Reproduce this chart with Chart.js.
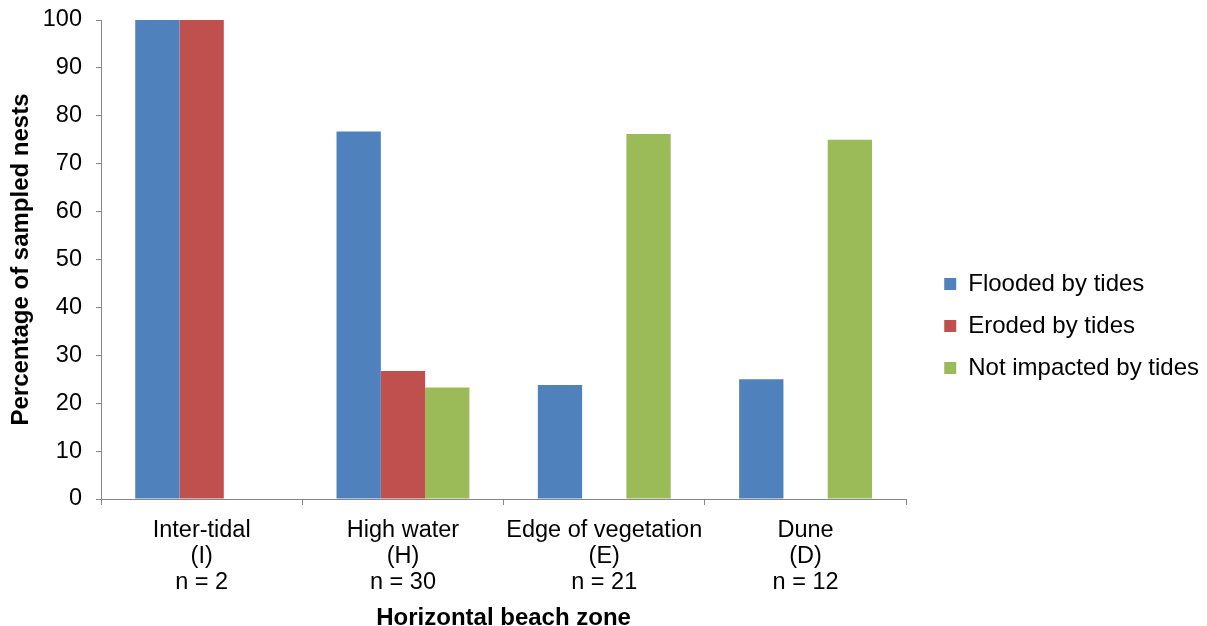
<!DOCTYPE html>
<html>
<head>
<meta charset="utf-8">
<script src="https://cdn.jsdelivr.net/npm/chart.js@4.4.1/dist/chart.umd.min.js"></script>
<style>
html,body{margin:0;padding:0;background:#fff;}
#wrap{width:1207px;height:626px;position:relative;}
</style>
</head>
<body>
<div id="wrap"><canvas id="c" width="1207" height="626"></canvas></div>
<script>
const categories = [
  ["Inter-tidal", "(I)", "n = 2"],
  ["High water", "(H)", "n = 30"],
  ["Edge of vegetation", "(E)", "n = 21"],
  ["Dune", "(D)", "n = 12"]
];
const seriesNames = ["Flooded by tides", "Eroded by tides", "Not impacted by tides"];
const flooded = [100, 76.7, 23.8, 25];
const eroded = [100, 26.7, 0, 0];
const notImpacted = [0, 23.3, 76.2, 75];
const yTicks = [0, 10, 20, 30, 40, 50, 60, 70, 80, 90, 100];

const colors = ["#4F81BD", "#C0504D", "#9BBB59"];
const axisColor = "#868686";
const font = "'Liberation Sans', Arial, sans-serif";
const FS = 23.5;
const TFS = 24;

const legendShift = {
  id: 'legendShift',
  afterLayout(chart) {
    const lg = chart.legend;
    if (!lg) return;
    const dx = 20, dy = 3;
    lg.left += dx; lg.right += dx;
    lg.top += dy; lg.bottom += dy;
  }
};

new Chart(document.getElementById('c'), {
  type: 'bar',
  data: {
    labels: categories,
    datasets: [
      {label: seriesNames[0], data: flooded, backgroundColor: colors[0]},
      {label: seriesNames[1], data: eroded, backgroundColor: colors[1]},
      {label: seriesNames[2], data: notImpacted, backgroundColor: colors[2]}
    ]
  },
  plugins: [legendShift],
  options: {
    responsive: false,
    animation: false,
    devicePixelRatio: 1,
    layout: {padding: {top: 20, right: 18, left: 7, bottom: 0}},
    datasets: {bar: {categoryPercentage: 0.66, barPercentage: 1.0, borderWidth: 0}},
    plugins: {
      tooltip: {enabled: false},
      legend: {
        position: 'right',
        labels: {
          boxWidth: 12, boxHeight: 12, padding: 18,
          color: '#000',
          font: {family: font, size: 24}
        }
      }
    },
    scales: {
      x: {
        grid: {display: true, drawOnChartArea: false, drawTicks: true, tickLength: 6, color: axisColor, offset: true},
        border: {display: true, color: axisColor, width: 1},
        ticks: {color: '#000', font: {family: font, size: FS, lineHeight: 26/FS}, padding: 13, maxRotation: 0, autoSkip: false},
        title: {display: true, text: 'Horizontal beach zone', color: '#000', font: {family: font, size: TFS, weight: 'bold', lineHeight: 16/TFS}, padding: {top: 1, bottom: 0}}
      },
      y: {
        min: 0, max: 100,
        afterBuildTicks: (axis) => { axis.ticks = yTicks.map(v => ({value: v})); },
        afterFit: (scale) => { scale.paddingTop = 0; },
        grid: {display: true, drawOnChartArea: false, drawTicks: true, tickLength: 5, color: axisColor},
        border: {display: true, color: axisColor, width: 1},
        ticks: {color: '#000', font: {family: font, size: FS}, padding: 14},
        title: {display: true, text: 'Percentage of sampled nests', color: '#000', font: {family: font, size: TFS, weight: 'bold'}, padding: {top: 0, bottom: -7}}
      }
    }
  }
});
</script>
</body>
</html>
